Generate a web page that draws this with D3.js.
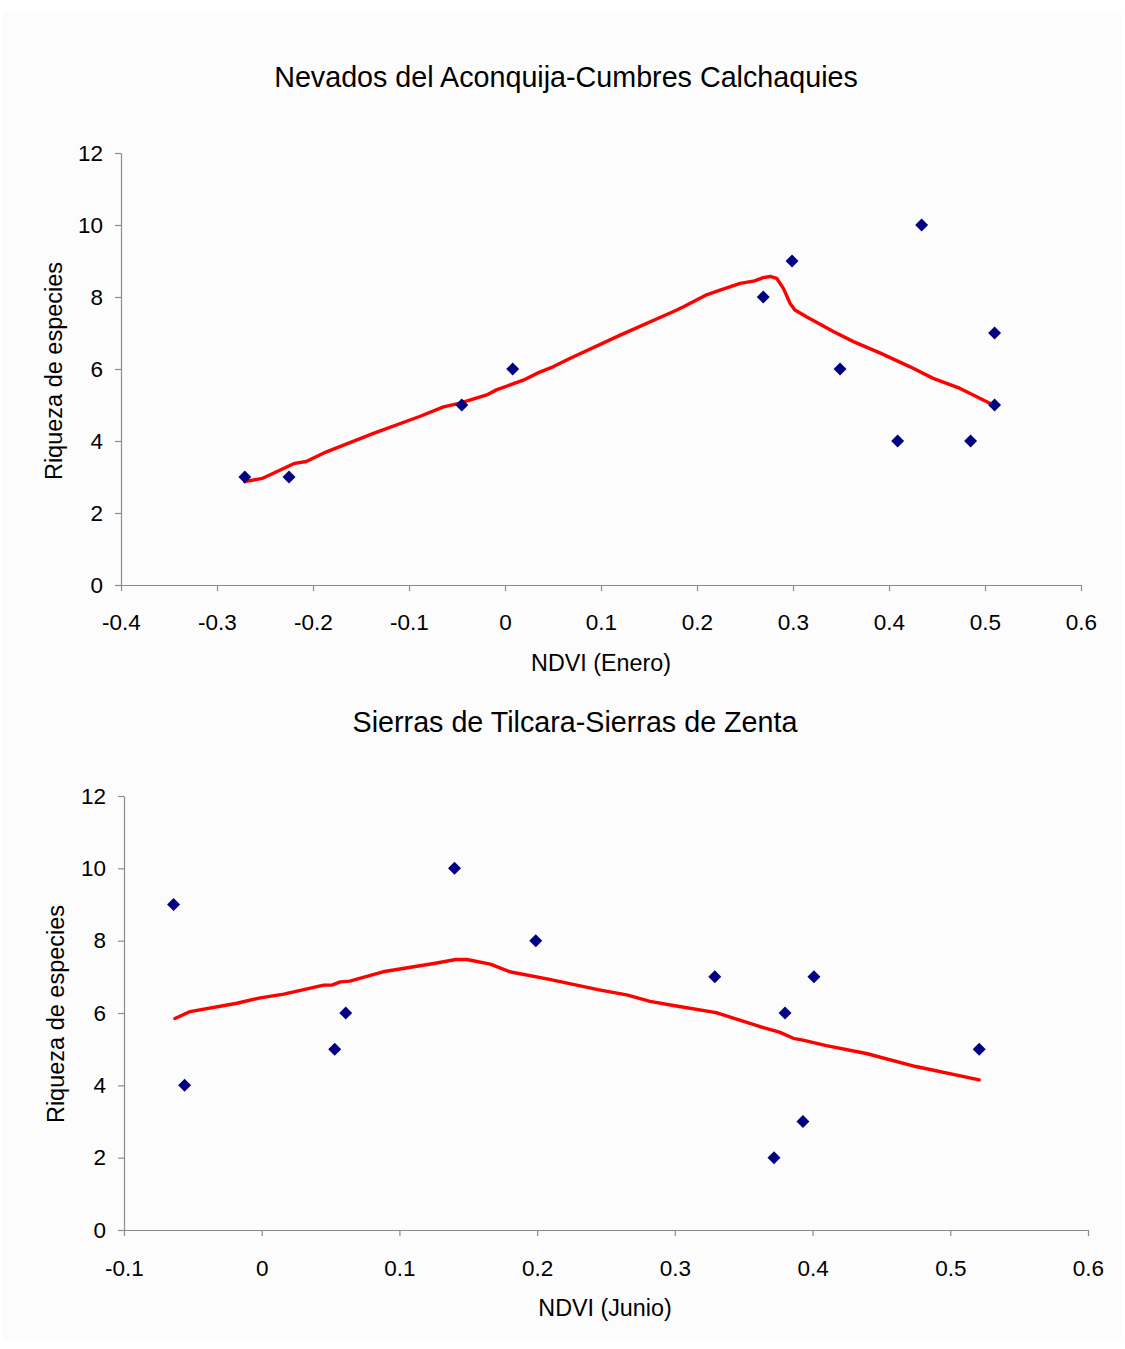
<!DOCTYPE html>
<html>
<head>
<meta charset="utf-8">
<script src="https://cdn.jsdelivr.net/npm/d3@7"></script>
<style>
  html, body { margin: 0; padding: 0; background: #ffffff; }
  svg { display: block; }
  text { font-family: "Liberation Sans", Arial, Helvetica, sans-serif; fill: #000; }
</style>
</head>
<body>
<svg id="fig" width="1125" height="1349"></svg>
<script>
// ---- Panel 1: Nevados del Aconquija-Cumbres Calchaquies ----
const title1 = "Nevados del Aconquija-Cumbres Calchaquies";
const xLabel1 = "NDVI (Enero)";
const xTicks1 = [-0.4, -0.3, -0.2, -0.1, 0, 0.1, 0.2, 0.3, 0.4, 0.5, 0.6];
const xTickLabels1 = ["-0.4", "-0.3", "-0.2", "-0.1", "0", "0.1", "0.2", "0.3", "0.4", "0.5", "0.6"];
const ndviEnero = [-0.271, -0.225, -0.045, 0.008, 0.269, 0.299, 0.349, 0.409, 0.434, 0.485, 0.510, 0.510];
const riqueza1  = [3, 3, 5, 6, 8, 9, 6, 4, 10, 4, 7, 5];
const fitX1 = [-0.271, -0.253, -0.219, -0.207, -0.186, -0.137, -0.089, -0.064, -0.047, -0.019, -0.009,
               0.019, 0.035, 0.050, 0.068, 0.120, 0.175, 0.186, 0.210, 0.224, 0.245, 0.260, 0.269,
               0.276, 0.283, 0.290, 0.297, 0.302, 0.314, 0.342, 0.363, 0.391, 0.422, 0.446, 0.474,
               0.505, 0.510];
const fitY1 = [2.87, 2.96, 3.38, 3.43, 3.70, 4.21, 4.68, 4.95, 5.05, 5.28, 5.42,
               5.69, 5.90, 6.06, 6.30, 6.94, 7.59, 7.73, 8.06, 8.19, 8.38, 8.45, 8.54,
               8.57, 8.52, 8.24, 7.82, 7.64, 7.45, 7.04, 6.76, 6.44, 6.06, 5.74, 5.46,
               5.05, 4.98];

// ---- Panel 2: Sierras de Tilcara-Sierras de Zenta ----
const title2 = "Sierras de Tilcara-Sierras de Zenta";
const xLabel2 = "NDVI (Junio)";
const xTicks2 = [-0.1, 0, 0.1, 0.2, 0.3, 0.4, 0.5, 0.6];
const xTickLabels2 = ["-0.1", "0", "0.1", "0.2", "0.3", "0.4", "0.5", "0.6"];
const ndviJunio = [-0.064, -0.056, 0.053, 0.061, 0.140, 0.199, 0.329, 0.372, 0.380, 0.393, 0.401, 0.521];
const riqueza2  = [9, 4, 5, 6, 10, 8, 7, 2, 6, 3, 7, 5];
const fitX2 = [-0.063, -0.052, -0.018, -0.001, 0.016, 0.045, 0.051, 0.057, 0.064, 0.088, 0.125,
               0.141, 0.149, 0.166, 0.180, 0.209, 0.245, 0.265, 0.282, 0.300, 0.330, 0.362,
               0.376, 0.386, 0.393, 0.410, 0.439, 0.475, 0.521];
const fitY2 = [5.85, 6.04, 6.27, 6.42, 6.52, 6.77, 6.77, 6.86, 6.88, 7.14, 7.37,
               7.48, 7.48, 7.35, 7.14, 6.93, 6.64, 6.50, 6.32, 6.20, 6.01, 5.62,
               5.47, 5.30, 5.25, 5.10, 4.88, 4.52, 4.15];

// shared y axis
const yLabel = "Riqueza de especies";
const yTicks = [0, 2, 4, 6, 8, 10, 12];

const svg = d3.select("#fig");

// light page panel
svg.append("rect")
  .attr("x", 3).attr("y", 12).attr("width", 1119).attr("height", 1328)
  .attr("fill", "#fcfcfc");

function drawPanel(p) {
  const g = svg.append("g");
  const x = d3.scaleLinear()
    .domain([p.xTicks[0], p.xTicks[p.xTicks.length - 1]])
    .range([p.left, p.right]);
  const y = d3.scaleLinear()
    .domain([yTicks[0], yTicks[yTicks.length - 1]])
    .range([p.bottom, p.top]);

  // x axis
  const xAxis = d3.axisBottom(x)
    .tickValues(p.xTicks)
    .tickFormat((d, i) => p.xTickLabels[i])
    .tickSizeInner(6).tickSizeOuter(0).tickPadding(p.xPad);
  const gx = g.append("g").attr("transform", `translate(0,${p.bottom})`).call(xAxis);

  // y axis
  const yAxis = d3.axisLeft(y)
    .tickValues(yTicks)
    .tickFormat(d3.format("d"))
    .tickSizeInner(6).tickSizeOuter(0).tickPadding(12);
  const gy = g.append("g").attr("transform", `translate(${p.left},0)`).call(yAxis);

  [gx, gy].forEach(a => {
    a.select(".domain").attr("stroke", "#8c8c8c").attr("stroke-width", 1.2);
    a.selectAll(".tick line").attr("stroke", "#8c8c8c").attr("stroke-width", 1.2);
    a.selectAll(".tick text")
      .attr("font-family", '"Liberation Sans", Arial, sans-serif')
      .attr("font-size", 22.5).attr("fill", "#000");
  });

  // smoothed trend line
  const line = d3.line()
    .x((d, i) => x(p.fitX[i]))
    .y((d, i) => y(p.fitY[i]))
    .curve(d3.curveLinear);
  g.append("path")
    .datum(p.fitX)
    .attr("d", line)
    .attr("fill", "none")
    .attr("stroke", "#ff0000")
    .attr("stroke-width", 3.4)
    .attr("stroke-linejoin", "round")
    .attr("stroke-linecap", "round");

  // observations as diamonds
  const diamond = d3.symbol().type(d3.symbolSquare).size(84);
  g.selectAll("path.pt")
    .data(p.xs)
    .enter().append("path")
    .attr("class", "pt")
    .attr("d", diamond)
    .attr("transform", (d, i) => `translate(${x(d)},${y(p.ys[i])}) rotate(45)`)
    .attr("fill", "#000080");

  // titles and labels
  g.append("text")
    .attr("x", p.titleX).attr("y", p.titleY)
    .attr("text-anchor", "middle")
    .attr("font-size", 28.7)
    .text(p.title);

  g.append("text")
    .attr("x", p.xLabelX).attr("y", p.xLabelY)
    .attr("text-anchor", "middle")
    .attr("font-size", 23.3)
    .text(p.xLabel);

  g.append("text")
    .attr("transform", `translate(${p.yLabelX},${p.yLabelY}) rotate(-90)`)
    .attr("text-anchor", "middle")
    .attr("font-size", 23.5)
    .text(yLabel);
}

drawPanel({
  left: 121, right: 1081, top: 153, bottom: 585, xPad: 23,
  xTicks: xTicks1, xTickLabels: xTickLabels1,
  xs: ndviEnero, ys: riqueza1, fitX: fitX1, fitY: fitY1,
  title: title1, titleX: 566, titleY: 87,
  xLabel: xLabel1, xLabelX: 601, xLabelY: 671,
  yLabelX: 62, yLabelY: 371
});

drawPanel({
  left: 124, right: 1088, top: 796, bottom: 1230, xPad: 24,
  xTicks: xTicks2, xTickLabels: xTickLabels2,
  xs: ndviJunio, ys: riqueza2, fitX: fitX2, fitY: fitY2,
  title: title2, titleX: 575, titleY: 732,
  xLabel: xLabel2, xLabelX: 605, xLabelY: 1316,
  yLabelX: 64, yLabelY: 1014
});
</script>
</body>
</html>
